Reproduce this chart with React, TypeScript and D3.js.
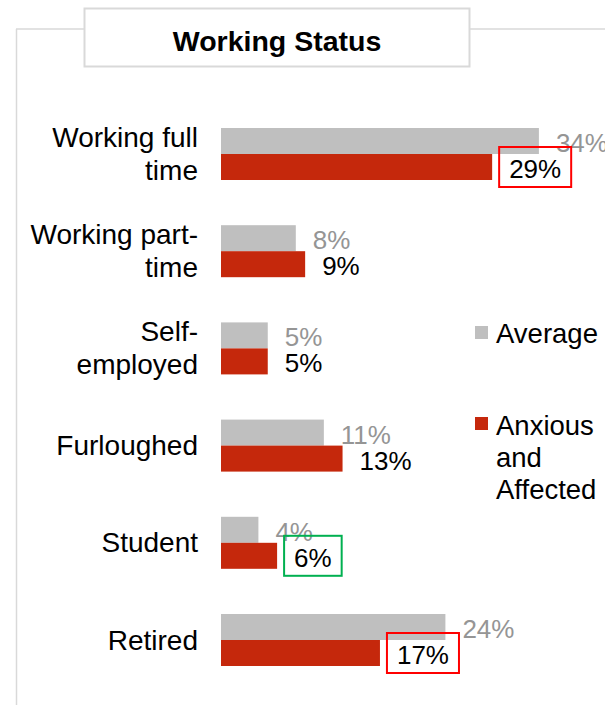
import React from "react";
import * as d3 from "d3";

const categories = [
  ["Working full", "time"],
  ["Working part-", "time"],
  ["Self-", "employed"],
  ["Furloughed"],
  ["Student"],
  ["Retired"],
];
const categoryKeys = ["Working full time", "Working part-time", "Self-employed", "Furloughed", "Student", "Retired"];
const seriesNames = ["Average", "Anxious and Affected"];
const averageValues = [34, 8, 5, 11, 4, 24];
const anxiousValues = [29, 9, 5, 13, 6, 17];
const highlights = [
  { category: "Working full time", color: "#FF0000" },
  { category: "Student", color: "#00B050" },
  { category: "Retired", color: "#FF0000" },
];

const W = 605;
const H = 705;
const FONT = "'Liberation Sans', Arial, Helvetica, sans-serif";
const GRAY = "#BFBFBF";
const RED = "#C5280C";
const LABEL_GRAY = "#959595";
const FRAME = "#D9D9D9";

export default function App() {
  const x = d3.scaleLinear().domain([0, 40]).range([221, 221 + 9.35 * 40]);
  const y = d3
    .scaleBand<string>()
    .domain(categoryKeys)
    .range([105.4, 688.6])
    .paddingInner(0.465)
    .paddingOuter(0.2325);
  const inner = d3.scaleBand<string>().domain(seriesNames).range([0, y.bandwidth()]).padding(0);
  const fmt = (v: number) => `${v}%`;
  const valFs = 26;
  const catFs = 28;
  const legFs = 27.5;
  const textW = (s: string) =>
    s.split("").reduce((a, c) => a + (c === "%" ? 0.889 : 0.556), 0) * valFs;
  const series = [
    { name: seriesNames[0], values: averageValues, color: GRAY, label: LABEL_GRAY },
    { name: seriesNames[1], values: anxiousValues, color: RED, label: "#000000" },
  ];

  return (
    <svg width={W} height={H} style={{ position: "absolute", left: 0, top: 0, background: "#fff" }} fontFamily={FONT}>
      {/* frame */}
      <line x1={16.5} y1={29} x2={16.5} y2={H} stroke={FRAME} strokeWidth={1.5} />
      <line x1={16} y1={29} x2={84} y2={29} stroke={FRAME} strokeWidth={1.5} />
      <line x1={470} y1={29} x2={W} y2={29} stroke={FRAME} strokeWidth={1.5} />
      <rect x={84.5} y={8.5} width={385} height={58} fill="#fff" stroke={FRAME} strokeWidth={2} />
      <text x={277} y={51} textAnchor="middle" fontSize={28.5} fontWeight="bold" fill="#000">
        Working Status
      </text>

      {/* bars */}
      {categoryKeys.map((c, i) => (
        <g key={c}>
          {series.map((s) => {
            const by = (y(c) as number) + (inner(s.name) as number);
            return (
              <rect key={s.name} x={x(0)} y={by} width={x(s.values[i]) - x(0)} height={inner.bandwidth()} fill={s.color} />
            );
          })}
        </g>
      ))}

      {/* category labels */}
      {categories.map((lines, i) => {
        const cy = (y(categoryKeys[i]) as number) + y.bandwidth() / 2;
        const lh = 33;
        const start = cy - ((lines.length - 1) * lh) / 2;
        return (
          <text key={i} textAnchor="end" fontSize={catFs} fill="#000">
            {lines.map((l, j) => (
              <tspan key={j} x={198} y={start + j * lh} dominantBaseline="central">
                {l}
              </tspan>
            ))}
          </text>
        );
      })}

      {/* value labels */}
      {categoryKeys.map((c, i) => (
        <g key={c}>
          {series.map((s) => {
            const cy = (y(c) as number) + (inner(s.name) as number) + inner.bandwidth() / 2 + 2;
            return (
              <text key={s.name} x={x(s.values[i]) + 17} y={cy} dominantBaseline="central" fontSize={valFs} fill={s.label}>
                {fmt(s.values[i])}
              </text>
            );
          })}
        </g>
      ))}

      {/* highlight boxes */}
      {highlights.map((h) => {
        const i = categoryKeys.indexOf(h.category);
        const v = anxiousValues[i];
        const lx = x(v) + 17;
        const cy = (y(h.category) as number) + (inner(seriesNames[1]) as number) + inner.bandwidth() / 2;
        const tw = textW(fmt(v));
        return (
          <rect key={h.category} x={lx - 10} y={cy - 20} width={tw + 20} height={40} fill="none" stroke={h.color} strokeWidth={2} />
        );
      })}

      {/* legend */}
      <rect x={475} y={326} width={13} height={13} fill={GRAY} />
      <text x={496} y={333} dominantBaseline="central" fontSize={legFs} fill="#000">
        Average
      </text>
      <rect x={475} y={417} width={13} height={13} fill={RED} />
      <text fontSize={legFs} fill="#000">
        {["Anxious", "and", "Affected"].map((l, j) => (
          <tspan key={j} x={496} y={425 + j * 32} dominantBaseline="central">
            {l}
          </tspan>
        ))}
      </text>
    </svg>
  );
}
